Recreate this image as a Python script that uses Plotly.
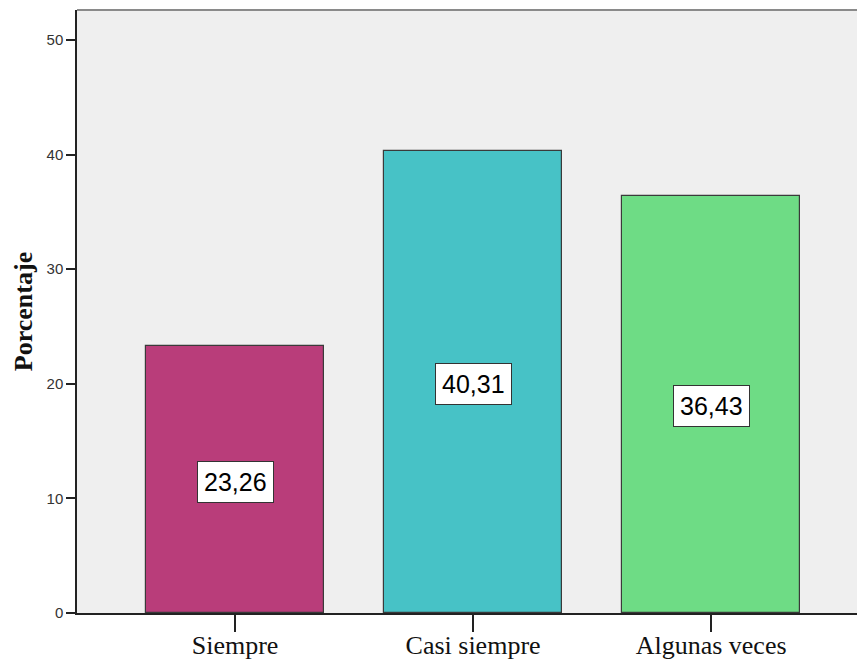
import plotly.graph_objects as go

categories = ["Siempre", "Casi siempre", "Algunas veces"]
values = [23.26, 40.31, 36.43]
colors = ["#B93D7A", "#47C2C6", "#6EDC85"]
y_ticks = [0, 10, 20, 30, 40, 50]

fig = go.Figure()
fig.add_trace(go.Bar(
    x=categories, y=values, width=0.748,
    marker=dict(color=colors, line=dict(color="#3a3a3a", width=1.2)),
    hoverinfo="skip",
))

for c, v in zip(categories, values):
    fig.add_annotation(
        x=c, y=v / 2, yshift=-2, text=f"{v:.2f}".replace(".", ","), showarrow=False,
        font=dict(family="Arial, Liberation Sans", size=25, color="black"),
        bgcolor="white", bordercolor="#333", borderwidth=1, borderpad=6,
    )

fig.add_shape(type="line", xref="paper", yref="paper", x0=0, x1=1, y0=1, y1=1,
              line=dict(color="#8a8a8a", width=2))

fig.update_layout(
    width=857, height=660,
    margin=dict(l=77, r=0, t=10, b=47),
    paper_bgcolor="white", plot_bgcolor="#EFEFEF",
    showlegend=False,
    bargap=0,
    xaxis=dict(
        range=[-0.664, 2.613], showgrid=False, zeroline=False, automargin=False,
        showline=True, linecolor="#222", linewidth=1.5,
        ticks="outside", ticklen=17, tickcolor="#222", tickwidth=1.5,
        ticklabelstandoff=-9,
        tickfont=dict(family="Liberation Serif, Times New Roman", size=26, color="#111"),
    ),
    yaxis=dict(
        range=[0, 52.62], tickvals=y_ticks, showgrid=False, zeroline=False, automargin=False,
        showline=True, linecolor="#222", linewidth=1.5,
        ticks="outside", ticklen=9, tickcolor="#222", tickwidth=1.5,
        tickfont=dict(family="Arial, Liberation Sans", size=15, color="#333"),
        title=dict(text="<b>Porcentaje</b>", standoff=6,
                   font=dict(family="Liberation Serif, Times New Roman", size=26, color="#111")),
    ),
)

fig.write_html("out.html")
